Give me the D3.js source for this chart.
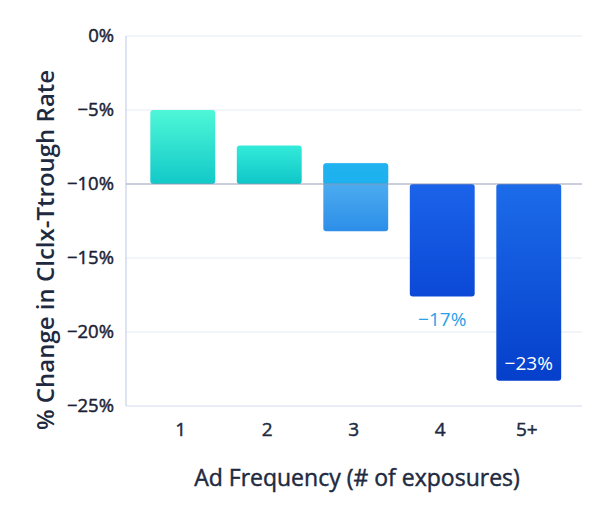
<!DOCTYPE html>
<html>
<head>
<meta charset="utf-8">
<script src="https://cdn.jsdelivr.net/npm/d3@7"></script>
<style>
  body { margin: 0; background: #fff; }
  text { font-family: "Open Sans", "Noto Sans", sans-serif; }
  .medium { stroke-width: 0.45px; }
</style>
</head>
<body>
<div id="chart"></div>
<script>
const categories = ['1', '2', '3', '4', '5+']
const barStart = [-10, -10, -8.6, -10, -10]
const barEnd = [-5, -7.4, -13.2, -17.6, -23.3]
const yTicks = [0, -5, -10, -15, -20, -25]
const valueLabels = ['', '', '', '−17%', '−23%']

const width = 594
const height = 519
const margin = { top: 36, right: 12, bottom: 113, left: 126 }

const svg = d3.select('#chart').append('svg')
  .attr('width', width)
  .attr('height', height)

const defs = svg.append('defs')
const gradients = [
  ['#4ef7d6', '#12c9c9'],
  ['#33ebd9', '#0fc6c8'],
  ['#5ab8f2', '#2c8ee8'],
  ['#1b63ea', '#0b49d6'],
  ['#1c6cea', '#053fcb']
]
gradients.forEach((g, i) => {
  const lg = defs.append('linearGradient')
    .attr('id', `g${i}`)
    .attr('x1', 0).attr('y1', 0).attr('x2', 0).attr('y2', 1)
  lg.append('stop').attr('offset', '0%').attr('stop-color', g[0])
  lg.append('stop').attr('offset', '100%').attr('stop-color', g[1])
})

const x = d3.scaleBand()
  .domain(categories)
  .range([139.5, 572])
  .paddingInner(0.25)
  .paddingOuter(0.125)

const y = d3.scaleLinear()
  .domain([0, -25])
  .range([margin.top, height - margin.bottom])

// grid
svg.append('g')
  .selectAll('line')
  .data(yTicks)
  .enter().append('line')
  .attr('x1', margin.left)
  .attr('x2', 582)
  .attr('y1', d => y(d))
  .attr('y2', d => y(d))
  .attr('stroke', d => d === -25 ? '#d5dcef' : '#e6ebf6')
  .attr('stroke-width', 1.2)

svg.append('line')
  .attr('x1', margin.left).attr('x2', margin.left)
  .attr('y1', y(0)).attr('y2', y(-25))
  .attr('stroke', '#d3daee')
  .attr('stroke-width', 1.5)

const data = categories.map((c, i) => ({ c, s: barStart[i], e: barEnd[i], i }))

svg.append('g')
  .selectAll('rect')
  .data(data)
  .enter().append('rect')
  .attr('x', d => x(d.c))
  .attr('width', x.bandwidth())
  .attr('y', d => y(Math.max(d.s, d.e)))
  .attr('height', d => Math.abs(y(d.s) - y(d.e)))
  .attr('rx', 3)
  .attr('fill', d => `url(#g${d.i})`)

// darker upper part of the floating bar
const floating = data.filter(d => d.s > -10)
svg.append('g')
  .selectAll('rect')
  .data(floating)
  .enter().append('rect')
  .attr('x', d => x(d.c))
  .attr('width', x.bandwidth())
  .attr('y', d => y(d.s))
  .attr('height', d => y(-10) - y(d.s))
  .attr('rx', 3)
  .attr('fill', '#12b2ef')
  .attr('opacity', 0.8)

// baseline
svg.append('line')
  .attr('x1', margin.left).attr('x2', 582)
  .attr('y1', y(-10)).attr('y2', y(-10))
  .attr('stroke', '#8f97ad')
  .attr('stroke-width', 1.2)
  .attr('opacity', 0.8)

// value labels
svg.append('g')
  .selectAll('text')
  .data(data.filter(d => valueLabels[d.i]))
  .enter().append('text')
  .attr('x', d => x(d.c) + x.bandwidth() / 2)
  .attr('y', d => d.i === 4 ? y(d.e) - 11 : y(d.e) + 30)
  .attr('text-anchor', 'middle')
  .attr('font-size', 19)
  .attr('fill', d => d.i === 4 ? '#ffffff' : '#2b9fe8')
  .text(d => valueLabels[d.i])

// y tick labels
svg.append('g')
  .selectAll('text')
  .data(yTicks)
  .enter().append('text')
  .attr('class', 'medium')
  .attr('x', 114)
  .attr('y', d => y(d))
  .attr('dy', '0.35em')
  .attr('text-anchor', 'end')
  .attr('font-size', 18.5)
  .attr('fill', '#1a2236')
  .attr('stroke', '#1a2236')
  .text(d => d === 0 ? '0%' : `−${Math.abs(d)}%`)

// x tick labels
svg.append('g')
  .selectAll('text')
  .data(categories)
  .enter().append('text')
  .attr('class', 'medium')
  .attr('x', d => x(d) + x.bandwidth() / 2 - 2)
  .attr('y', 436)
  .attr('text-anchor', 'middle')
  .attr('font-size', 19)
  .attr('fill', '#1e2a40')
  .attr('stroke', '#1e2a40')
  .text(d => d)

svg.append('text')
  .attr('class', 'medium')
  .attr('x', 357)
  .attr('y', 486)
  .attr('text-anchor', 'middle')
  .attr('font-size', 23)
  .attr('fill', '#1e2a40')
  .attr('stroke', '#1e2a40')
  .text('Ad Frequency (# of exposures)')

svg.append('text')
  .attr('transform', `translate(54, 250) rotate(-90)`)
  .attr('text-anchor', 'middle')
  .attr('font-size', 24)
  .attr('font-weight', 600)
  .attr('fill', '#1e2a40')
  .text('% Change in Clclx-Ttrough Rate')
</script>
</body>
</html>
